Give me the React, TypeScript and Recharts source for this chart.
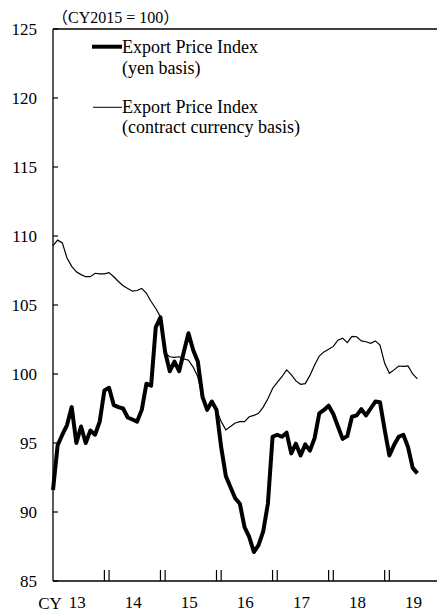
import { LineChart, Line, XAxis, YAxis, ReferenceLine, Legend } from "recharts";

const SERIF = "'Times New Roman', 'Liberation Serif', 'Noto Sans CJK JP', serif";

const years = ["13", "14", "15", "16", "17", "18", "19"];
const yTicks = [85, 90, 95, 100, 105, 110, 115, 120, 125];

// monthly, Jan 2013 - Jul 2019
const yenBasis = [
  91.6, 94.85, 95.6, 96.3, 97.6, 95.0, 96.2, 95.0, 95.9, 95.6, 96.55, 98.8,
  99.0, 97.75, 97.6, 97.5, 96.85, 96.7, 96.55, 97.4, 99.3, 99.15, 103.4, 104.1,
  101.6, 100.2, 100.9, 100.2, 101.6, 102.95, 101.74, 100.9, 98.35, 97.4, 98.0, 97.4,
  94.7, 92.6, 91.8, 91.0, 90.6, 88.9, 88.2, 87.1, 87.6, 88.6, 90.6, 95.45,
  95.6, 95.45, 95.75, 94.25, 94.95, 94.1, 94.9, 94.45, 95.35, 97.15, 97.4, 97.7,
  97.1, 96.2, 95.3, 95.5, 96.9, 97.0, 97.45, 97.0, 97.5, 98.0, 97.95, 95.95,
  94.1, 94.85, 95.45, 95.6, 94.7, 93.2, 92.8,
];

const contractBasis = [
  109.3, 109.7, 109.5, 108.4, 107.8, 107.4, 107.2, 107.05, 107.05, 107.3, 107.25, 107.25,
  107.35, 107.05, 106.7, 106.4, 106.2, 106.0, 106.05, 106.2, 105.85, 105.25, 104.75, 104.15,
  101.5, 101.25, 101.2, 101.25, 101.1, 101.0, 100.5, 99.8, 98.3, 97.5, 98.0, 97.4,
  96.55, 95.95, 96.2, 96.45, 96.55, 96.55, 96.9, 97.0, 97.15, 97.6, 98.2, 98.95,
  99.4, 99.8, 100.3, 99.95, 99.5, 99.25, 99.3, 99.9, 100.65, 101.3, 101.6, 101.8,
  102.0, 102.45, 102.6, 102.27, 102.73, 102.7, 102.4, 102.34, 102.22, 102.4, 102.1, 100.77,
  100.05, 100.3, 100.58, 100.55, 100.58, 100.0, 99.65,
];

const data = yenBasis.map((v, i) => ({ m: i, yen: v, contract: contractBasis[i] }));

const yearMid = years.map((_, k) => k * 12 + 5.5);
const yearBreaks = years.slice(1).map((_, k) => (k + 1) * 12);

function YTick({ x, y, payload }: any) {
  return (
    <g>
      <line x1={x} x2={x + 5} y1={y} y2={y} stroke="#000" strokeWidth={1.2} />
      <text x={x - 16} y={y + 6} textAnchor="end" fontSize={17} fontFamily={SERIF} fill="#000">
        {payload.value}
      </text>
    </g>
  );
}

function XTick({ x, y, index }: any) {
  return (
    <text x={x - 1.5} y={y + 27} textAnchor="middle" fontSize={17} fontFamily={SERIF} fill="#000">
      {years[index]}
    </text>
  );
}

function LegendBox() {
  return (
    <svg width={260} height={112} style={{ display: "block" }}>
      <g fontFamily={SERIF} fontSize={18} fill="#000">
        <line x1={4} x2={34} y1={16.7} y2={16.7} stroke="#000" strokeWidth={4} />
        <text x={34} y={23.3}>Export Price Index</text>
        <text x={34} y={44}>(yen basis)</text>
        <line x1={5} x2={34} y1={77.3} y2={77.3} stroke="#000" strokeWidth={1} />
        <text x={34} y={83.3}>Export Price Index</text>
        <text x={34} y={103.3}>(contract currency basis)</text>
      </g>
    </svg>
  );
}

export default function App() {
  return (
    <div style={{ position: "absolute", left: 0, top: 0, background: "#fff" }}>
      <LineChart
        width={438}
        height={613}
        data={data}
        margin={{ top: 29, right: 1, bottom: 0, left: 0 }}
      >
        <XAxis
          dataKey="m"
          type="number"
          domain={[0, 82.2]}
          ticks={yearMid}
          interval={0}
          height={32}
          tickLine={false}
          tickSize={0}
          tickMargin={0}
          axisLine={{ stroke: "#000", strokeWidth: 1.3 }}
          tick={<XTick />}
          label={{
            content: ({ viewBox }: any) => (
              <text x={viewBox.x - 3} y={viewBox.y + 27.5} textAnchor="middle" fontSize={17} fontFamily={SERIF} fill="#000">
                CY
              </text>
            ),
          }}
        />
        <YAxis
          type="number"
          domain={[85, 125]}
          ticks={yTicks}
          interval={0}
          width={53}
          tickLine={false}
          tickSize={0}
          tickMargin={0}
          axisLine={{ stroke: "#000", strokeWidth: 1.3 }}
          tick={<YTick />}
          label={{
            content: ({ viewBox }: any) => (
              <text x={viewBox.x + 52} y={viewBox.y - 6.5} fontSize={16} fontFamily={SERIF} fill="#000">
                （CY2015 = 100）
              </text>
            ),
          }}
        />
        <ReferenceLine y={125} stroke="#000" strokeWidth={1.3} />
        {yearBreaks.map((b) => (
          <ReferenceLine
            key={`a${b}`}
            segment={[{ x: b - 1, y: 85 }, { x: b - 1, y: 85.8 }]}
            stroke="#000"
            strokeWidth={1.2}
          />
        ))}
        {yearBreaks.map((b) => (
          <ReferenceLine
            key={`b${b}`}
            segment={[{ x: b, y: 85 }, { x: b, y: 85.8 }]}
            stroke="#000"
            strokeWidth={1.2}
          />
        ))}
        <Legend
          layout="vertical"
          align="center"
          verticalAlign="middle"
          content={() => <LegendBox />}
          wrapperStyle={{ left: 88, top: 30, width: 260, height: 112 }}
        />
        <Line
          dataKey="contract"
          type="linear"
          stroke="#000"
          strokeWidth={1.2}
          dot={false}
          activeDot={false}
          isAnimationActive={false}
        />
        <Line
          dataKey="yen"
          type="linear"
          stroke="#000"
          strokeWidth={4}
          strokeLinejoin="round"
          dot={false}
          activeDot={false}
          isAnimationActive={false}
        />
      </LineChart>
    </div>
  );
}
